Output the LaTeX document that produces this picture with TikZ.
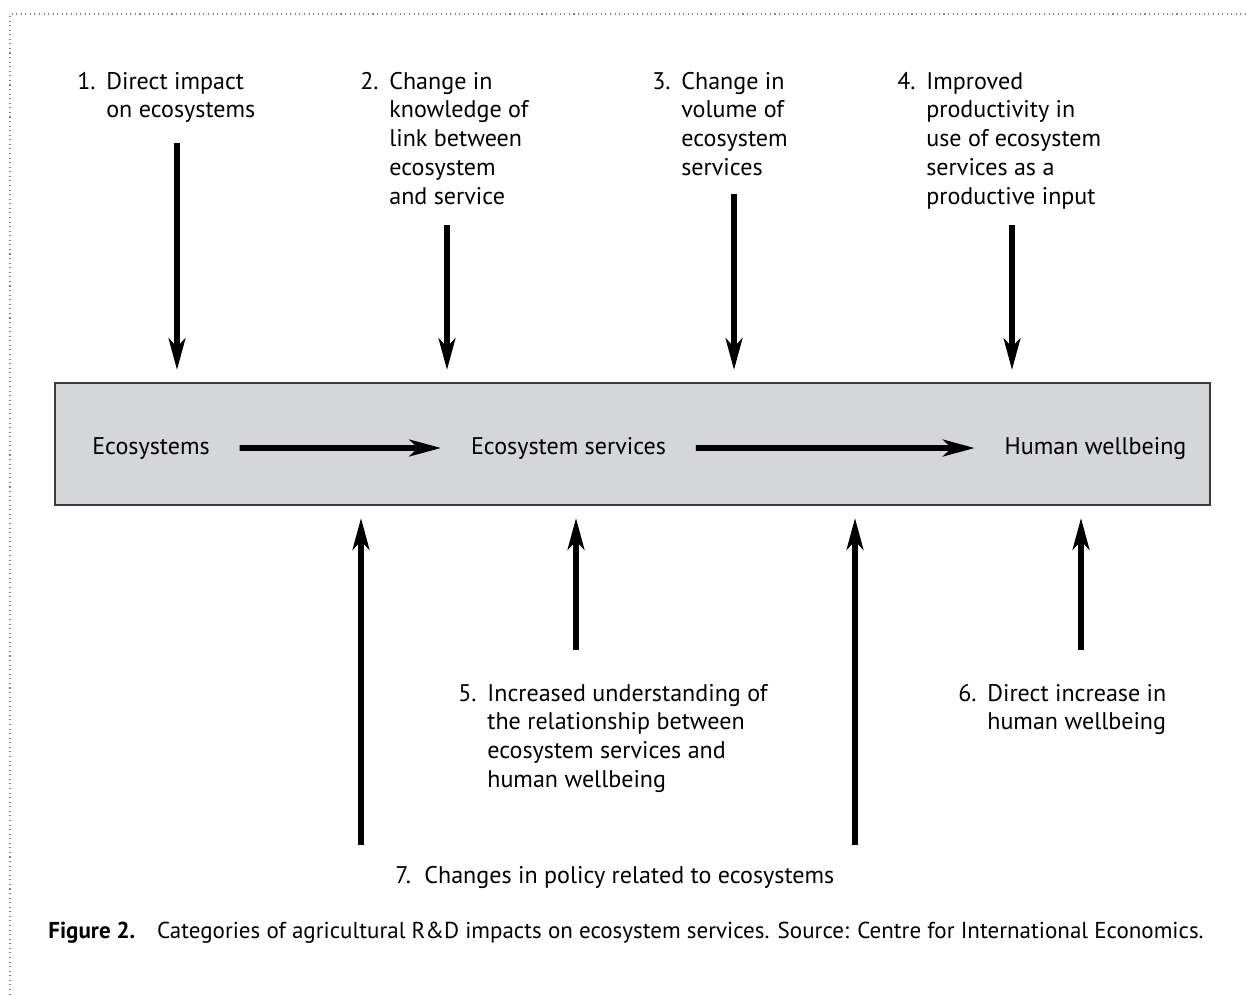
\documentclass[tikz,border=0pt]{standalone}
\usepackage{fontspec}
\setmainfont{PT Sans}
\usetikzlibrary{arrows.meta,positioning}
\definecolor{panel}{HTML}{D5D6D8}
\definecolor{rim}{HTML}{3C3C3C}
\newcommand{\numitem}[2]{\makebox[16.5pt][l]{#1}\begin{tabular}[t]{@{}l@{}}#2\end{tabular}}
\begin{document}
\begin{tikzpicture}[x=0.02cm,y=-0.02cm,>=Stealth,font=\fontsize{13.7}{16.4}\selectfont]
\tikzstyle{stage}=[inner sep=0pt, outer sep=0.6cm]
\tikzstyle{lbl}=[inner sep=0pt, anchor=base west]
\tikzstyle{arr}=[line width=3.2pt, -{Stealth[length=18pt,width=9.5pt,inset=5pt]}]
\useasboundingbox (0,0) rectangle (1246,995);
\draw[gray, dotted, line width=0.6pt] (1246,14) -- (10,14) -- (10,995);

% the chain ecosystems -> services -> wellbeing
\node[draw=rim, line width=1pt, fill=panel, inner sep=0pt, outer sep=0.26cm,
  minimum width=23.1cm, minimum height=2.44cm] (band) at (632.5,444) {};
\node[stage, anchor=base] (eco) at (151,454) {Ecosystems};
\node[stage, anchor=base] (ess) at (568.5,454) {Ecosystem services};
\node[stage, anchor=base] (hw) at (1095.5,454) {Human wellbeing};
\draw[arr] (eco) -- (ess);
\draw[arr] (ess) -- (hw);

% impact categories
\node[lbl] (imp1) at (77,89) {\numitem{1.}{Direct impact\\on ecosystems}};
\node[lbl] (imp2) at (360,89) {\numitem{2.}{Change in\\knowledge of\\link between\\ecosystem\\and service}};
\node[lbl] (imp3) at (652,89) {\numitem{3.}{Change in\\volume of\\ecosystem\\services}};
\node[lbl] (imp4) at (897,89) {\numitem{4.}{Improved\\productivity in\\use of ecosystem\\services as a\\productive input}};
\node[lbl] (imp5) at (458,701) {\numitem{5.}{Increased understanding of\\the relationship between\\ecosystem services and\\human wellbeing}};
\node[lbl] (imp6) at (958,701) {\numitem{6.}{Direct increase in\\human wellbeing}};
\node[lbl] (imp7) at (395,883) {\numitem{7.}{Changes in policy related to ecosystems}};

% arrow tails
\coordinate (t1) at (177,143);
\coordinate (t2) at (447,225);
\coordinate (t3) at (734,194);
\coordinate (t4) at (1012,225);
\coordinate (t5) at (576,650);
\coordinate (t6) at (1081,650);
\coordinate (t7a) at (361,845);
\coordinate (t7b) at (855,845);
\foreach \c in {t1,t2,t3,t4} \draw[arr] (\c) -- (\c |- band.north);
\foreach \c in {t5,t6,t7a,t7b} \draw[arr] (\c) -- (\c |- band.south);

\node[lbl, font=\fontsize{13.1}{15.7}\selectfont] (cap) at (48,938) {\textbf{Figure 2.}\hspace{0.95em}Categories of agricultural R\&D impacts on ecosystem services. Source: Centre for International Economics.};
\end{tikzpicture}
\end{document}
